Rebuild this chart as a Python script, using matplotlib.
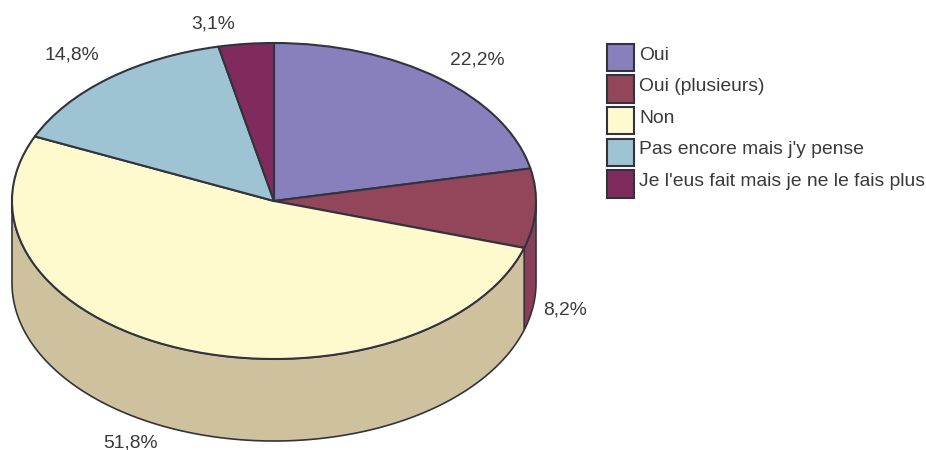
import numpy as np
import matplotlib
matplotlib.use("Agg")
import matplotlib.pyplot as plt
from matplotlib.patches import Rectangle
from matplotlib.transforms import Affine2D

categories = ["Oui", "Oui (plusieurs)", "Non", "Pas encore mais j'y pense", "Je l'eus fait mais je ne le fais plus"]
# slice sizes as measured on the drawn pie; printed labels are kept as in the reference
values = [21.7, 8.1, 51.9, 14.9, 3.4]
value_labels = ["22,2%", "8,2%", "51,8%", "14,8%", "3,1%"]
colors = ["#8880BC", "#934559", "#FFFACD", "#9EC3D3", "#7F2B5E"]
wall_colors = ["#7A73A8", "#8A3F58", "#CEC29E", "#8FB0BE", "#72275A"]

W, H = 926, 450
CX, CY, RX, RY, DEPTH = 274, 201, 262, 158, 82
EDGE = "#33333F"
plt.rcParams["font.family"] = ["Liberation Sans", "DejaVu Sans"]
TXT = "#3A3A3A"
FS = 13.85

fig = plt.figure(figsize=(W / 100, H / 100), dpi=100)
ax = fig.add_axes([0, 0, 1, 1])
px = Affine2D().scale(1, -1).translate(0, H) + Affine2D().scale(fig.dpi / 100) + fig.dpi_scale_trans.inverted() + fig.dpi_scale_trans

wedges, _ = ax.pie(values, colors=colors, startangle=90, counterclock=False, radius=1,
                   wedgeprops=dict(edgecolor=EDGE, linewidth=1.5, zorder=3, joinstyle="round"))
ax.set_aspect("auto")
ax.set_xlim(-CX / RX, (W - CX) / RX)
ax.set_ylim(-(H - CY) / RY, CY / RY)
d = DEPTH / RY

# side wall of the disc: the part of each slice lying on the front half
shares = np.array(values) / np.sum(values) * 360
ends = 90 - np.cumsum(shares)
starts = ends + shares
for s, e, c in zip(starts, ends, wall_colors):
    a, b = min(s, 0), max(e, -180)
    if a <= b:
        continue
    t = np.radians(np.linspace(a, b, 200))
    xs = np.cos(t)
    ys = np.sin(t)
    ax.fill(np.r_[xs, xs[::-1]], np.r_[ys, ys[::-1] - d], facecolor=c,
            edgecolor=EDGE, linewidth=1.2, zorder=2, joinstyle="round")

# value labels
label_pos = [(477, 60), (565, 310), (131, 443), (72, 55), (213, 24)]
for (x, y), s in zip(label_pos, value_labels):
    ax.text(x, y, s, transform=px, ha="center", va="center", fontsize=FS, color=TXT)

# legend
top, step, size = 43.7, 31.6, 27.5
for i, (name, c) in enumerate(zip(categories, colors)):
    y = top + i * step
    ax.add_patch(Rectangle((606.5, y), size, size, transform=px, facecolor=c, edgecolor=EDGE,
                           linewidth=1.5, clip_on=False, zorder=4))
    ax.text(639, y + 11.3, name, transform=px, ha="left", va="center", fontsize=FS, color=TXT)

fig.savefig("out.png", dpi=100)
